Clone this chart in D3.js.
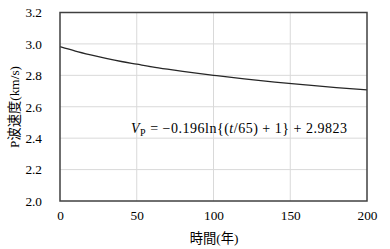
<!DOCTYPE html>
<html>
<head>
<meta charset="utf-8">
<script src="https://cdn.jsdelivr.net/npm/d3@7"></script>
<style>
  body { margin: 0; background: #fff; }
  svg { display: block; }
  .tick text { font-family: "Liberation Serif", "Times New Roman", serif; font-size: 13.3px; fill: #000; }
</style>
</head>
<body>
<svg id="chart" width="390" height="249"></svg>
<script>
// years and P-wave velocity
const years = [0, 10, 20, 30, 40, 50, 60, 70, 80, 90, 100, 120, 140, 160, 180, 200];
const velocity = [2.982, 2.954, 2.930, 2.908, 2.888, 2.871, 2.854, 2.839, 2.825, 2.812, 2.800, 2.777, 2.757, 2.739, 2.722, 2.707];
const xTicks = [0, 50, 100, 150, 200];
const yTicks = [2.0, 2.2, 2.4, 2.6, 2.8, 3.0, 3.2];

const box = { left: 60, right: 367, top: 12.5, bottom: 201 };
const svg = d3.select("#chart");

const x = d3.scaleLinear().domain([0, 200]).range([box.left, box.right]);
const y = d3.scaleLinear().domain([2.0, 3.2]).range([box.bottom, box.top]);

// grid
svg.append("g").selectAll("line").data(xTicks.slice(1, -1)).enter().append("line")
    .attr("x1", d => x(d)).attr("x2", d => x(d))
    .attr("y1", box.top).attr("y2", box.bottom)
    .attr("stroke", "#d9d9d9").attr("stroke-width", 1);
svg.append("g").selectAll("line").data(yTicks.slice(1, -1)).enter().append("line")
    .attr("x1", box.left).attr("x2", box.right)
    .attr("y1", d => y(d)).attr("y2", d => y(d))
    .attr("stroke", "#d9d9d9").attr("stroke-width", 1);

// axes (labels only)
const xAxis = svg.append("g").attr("transform", "translate(0," + box.bottom + ")")
    .call(d3.axisBottom(x).tickValues(xTicks).tickSize(0).tickPadding(10).tickFormat(d3.format("d")));
xAxis.select(".domain").remove();

const yAxis = svg.append("g").attr("transform", "translate(" + box.left + ",0)")
    .call(d3.axisLeft(y).tickValues(yTicks).tickSize(0).tickPadding(18).tickFormat(d3.format(".1f")));
yAxis.select(".domain").remove();

// curve
const pts = years.map((t, i) => [t, velocity[i]]);
svg.append("path").datum(pts)
    .attr("fill", "none").attr("stroke", "#262626").attr("stroke-width", 1.3)
    .attr("d", d3.line().x(d => x(d[0])).y(d => y(d[1])).curve(d3.curveMonotoneX));

// plot frame
svg.append("rect")
    .attr("x", box.left).attr("y", box.top)
    .attr("width", box.right - box.left).attr("height", box.bottom - box.top)
    .attr("fill", "none").attr("stroke", "#404040").attr("stroke-width", 1.5);

// equation
const eq = svg.append("text")
    .attr("x", 131).attr("y", 133)
    .attr("textLength", 216).attr("lengthAdjust", "spacing")
    .attr("font-family", "'Liberation Serif', 'DejaVu Serif', serif")
    .attr("font-size", "14px").attr("fill", "#000");
eq.append("tspan").attr("font-style", "italic").text("V");
eq.append("tspan").attr("font-size", "10px").attr("dy", 2.5).text("P");
eq.append("tspan").attr("dy", -2.5).text(" = \u22120.196ln{(");
eq.append("tspan").attr("font-style", "italic").text("t");
eq.append("tspan").text("/65) + 1} + 2.9823");

// axis titles
svg.append("text")
    .attr("x", 214).attr("y", 243).attr("text-anchor", "middle")
    .attr("font-family", "'Liberation Serif', 'Noto Sans CJK JP', serif")
    .attr("font-size", "13.3px").attr("fill", "#000")
    .text("時間(年)");

svg.append("text")
    .attr("transform", "translate(19,107) rotate(-90)").attr("text-anchor", "middle")
    .attr("font-family", "'Liberation Serif', 'Noto Sans CJK JP', serif")
    .attr("font-size", "13.3px").attr("fill", "#000")
    .text("P波速度(km/s)");
</script>
</body>
</html>
